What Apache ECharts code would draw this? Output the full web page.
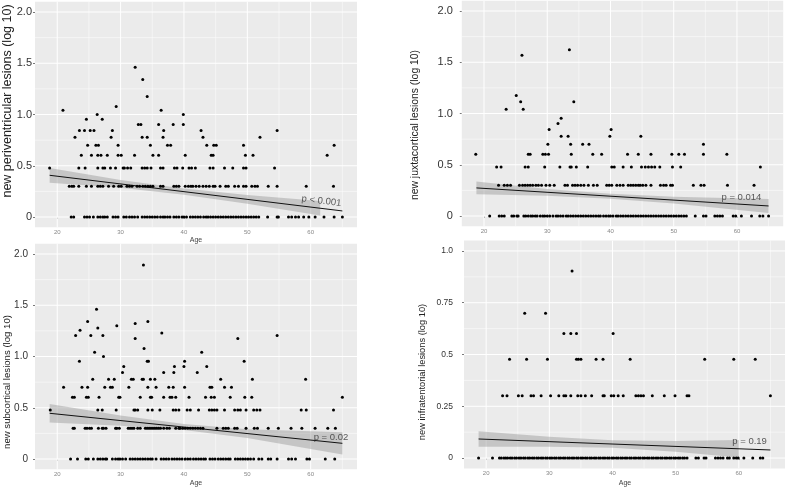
<!DOCTYPE html>
<html><head><meta charset="utf-8">
<script src="https://cdn.jsdelivr.net/npm/echarts@6/dist/echarts.min.js"></script>
<style>html,body{margin:0;padding:0;background:#fff}#c{width:787px;height:487px}</style>
</head><body><div id="c"></div>
<script>
// ---------- DATA ----------
// rows: [log10 value, [ages...]]
const periRows = [
 [1.462,[32.3]],
 [1.342,[33.5]],
 [1.176,[34.2]],
 [1.079,[29.3]],
 [1.041,[20.9,36.4]],
 [1.0,[26.3,39.9]],
 [0.954,[24.6,27.1]],
 [0.903,[32.8,33.2,36.0,38.3,39.9]],
 [0.845,[23.5,24.3,25.2,25.8,28.7,36.8,42.7,54.7]],
 [0.778,[22.8,28.5,33.4,34.2,36.7,43.0,52.0]],
 [0.699,[24.8,26.1,26.5,29.6,34.7,37.4,37.9,43.6,44.7,45.1,49.4,63.7]],
 [0.602,[23.8,25.4,26.4,26.9,27.9,29.6,30.1,32.2,35.1,36.0,40.2,44.3,44.6,49.7,50.9,62.6]],
 [0.477,[18.8,23.4,24.4,26.4,27.2,27.5,28.4,29.2,30.4,30.6,31.1,31.6,33.4,33.8,34.2,34.8,36.3,36.7,38.5,38.9,39.8,40.8,41.2,41.8,44.1,44.6,46.4,47.7,49.4,49.8,54.3]],
 [0.301,[21.9,22.3,22.6,23.4,24.6,25.4,26.4,26.8,27.2,28.1,28.9,29.7,30.1,31.0,31.4,31.8,32.6,33.0,33.5,33.9,34.3,34.7,35.1,36.3,36.7,38.4,38.8,39.2,40.2,40.7,41.1,41.4,41.9,42.4,43.0,43.5,44.0,44.6,44.9,45.7,46.6,47.0,48.0,48.6,49.4,49.8,50.7,51.2,51.6,53.3,54.7,59.3,63.6]],
 [0,[22.2,22.6,24.3,24.7,25.1,25.7,26.4,26.8,27.2,27.5,27.9,28.8,29.2,29.6,30.5,30.9,31.4,31.8,32.2,32.7,33.4,33.8,34.2,34.6,35.0,35.4,35.8,36.3,36.7,37.0,37.4,37.8,38.4,38.8,39.2,39.7,40.0,40.4,41.0,41.4,41.8,42.2,42.6,43.1,43.5,43.8,44.2,44.6,45.0,45.4,45.8,46.2,46.6,47.0,47.4,47.8,48.2,48.6,49.0,49.4,49.8,50.2,50.6,51.0,51.4,51.8,53.2,54.7,54.9,56.5,57.0,57.6,58.1,58.9,59.7,60.7,62.1,63.7,65.0]]
];
const juxtaRows = [
 [1.623,[33.5]],
 [1.568,[26.0]],
 [1.176,[25.1]],
 [1.114,[25.8,34.2]],
 [1.041,[23.5,26.2]],
 [0.954,[32.2]],
 [0.903,[31.7]],
 [0.845,[30.3,40.1]],
 [0.778,[32.2,33.3,39.9,44.8]],
 [0.699,[30.1,33.7,35.6,36.6,54.7]],
 [0.602,[18.7,27.0,27.3,29.3,29.7,30.2,33.8,37.2,38.6,42.7,44.4,46.4,49.7,50.8,51.7,54.7,58.4]],
 [0.477,[22.0,22.7,26.5,27.0,29.6,32.0,33.6,33.8,34.6,36.4,40.2,40.6,42.0,43.3,44.9,45.5,46.0,46.5,47.0,47.8,49.8,51.1,63.7]],
 [0.301,[22.3,23.2,23.7,24.2,25.6,26.1,26.5,26.9,27.3,27.7,28.2,28.6,29.1,29.8,30.4,31.1,32.8,33.2,34.0,34.4,34.8,35.3,35.8,36.5,37.3,37.9,39.4,39.8,40.2,41.0,41.5,42.0,42.8,43.2,43.6,44.0,44.4,44.7,45.1,45.6,46.4,47.9,48.4,48.8,49.5,49.8,53.1,54.3,54.8,58.5,62.7]],
 [0,[20.9,22.4,22.8,23.2,24.4,24.7,25.2,25.4,26.3,26.6,27.0,27.4,27.7,28.1,28.4,28.9,29.3,29.6,30.0,30.4,30.9,31.4,31.7,32.1,32.5,33.0,33.3,33.7,34.1,34.5,34.9,35.3,35.7,36.1,36.5,36.9,37.3,37.7,38.1,38.4,38.9,39.3,39.7,40.0,40.4,40.9,41.2,41.6,42.0,42.4,42.8,43.2,43.6,44.0,44.4,44.8,45.2,45.6,46.0,46.4,46.8,47.2,47.6,48.0,48.4,48.8,49.2,49.6,50.0,50.4,50.8,51.2,51.6,52.0,53.4,54.7,55.1,56.5,56.9,57.3,57.7,59.4,59.8,60.7,62.3,63.6,64.1,65.0]]
];
const subRows = [
 [1.892,[33.6]],
 [1.462,[26.2]],
 [1.342,[24.8,34.3]],
 [1.322,[32.3]],
 [1.301,[29.4]],
 [1.279,[26.4]],
 [1.255,[23.6]],
 [1.230,[36.5]],
 [1.204,[22.9,25.3,27.2,54.7]],
 [1.176,[32.3,48.5]],
 [1.079,[33.7]],
 [1.041,[25.9,42.8]],
 [1.0,[27.3]],
 [0.954,[23.5,34.2,34.4,40.1,49.5]],
 [0.903,[30.5,38.5,40.0,43.6]],
 [0.845,[30.3,36.8,38.4,42.1]],
 [0.778,[25.6,28.1,29.0,31.7,32.0,33.4,33.6,34.7,35.4,45.8,50.8,59.2]],
 [0.699,[21.0,23.9,24.8,27.5,28.4,28.7,31.3,34.3,35.6,37.6,38.3,40.1,44.1,44.4,46.4,47.5]],
 [0.602,[22.4,22.7,24.6,24.9,26.6,29.7,29.9,33.1,34.7,34.9,36.8,37.8,38.1,38.7,40.8,43.4,44.3,44.8,47.3,49.6,50.7,65.0]],
 [0.477,[18.9,26.4,27.1,29.3,32.1,32.3,32.7,34.3,35.0,36.2,38.3,38.7,39.2,40.5,41.0,42.3,44.0,44.4,44.8,45.2,46.4,48.0,48.5,48.9,49.8,51.0,51.5,52.0,58.5,59.3,63.6]],
 [0.301,[22.5,22.7,24.4,24.7,25.1,25.4,26.5,27.1,27.3,27.7,29.2,29.4,29.8,31.2,31.5,31.8,32.1,32.7,33.1,33.9,34.2,34.5,34.8,35.1,35.4,35.7,36.0,36.3,36.8,37.3,37.7,38.7,39.2,39.4,39.8,40.2,40.6,41.0,41.4,41.8,42.2,42.6,43.0,45.2,46.2,46.6,47.0,48.0,48.4,49.8,51.1,51.6,53.3,54.9,56.9,58.6,60.7,62.7,63.9]],
 [0,[22.1,23.2,24.5,24.9,25.7,26.4,26.8,27.2,27.6,27.8,28.7,29.2,29.6,29.9,30.3,30.8,31.5,31.9,32.3,32.7,33.1,33.5,33.9,34.3,34.7,35.0,35.6,36.4,36.8,37.2,37.6,38.1,38.5,38.9,39.3,39.7,40.2,40.6,41.0,41.5,41.9,42.3,42.7,43.1,43.4,44.1,44.5,44.9,45.4,45.8,46.2,46.6,47.0,47.3,48.1,48.5,48.9,49.3,49.7,50.1,50.5,51.0,51.8,52.3,53.3,53.7,54.7,56.5,57.0,57.6,59.4,59.8,62.3,63.8]]
];
const infraRows = [
 [0.903,[33.6]],
 [0.699,[26.1,29.4]],
 [0.602,[32.3,33.4,34.3,40.1]],
 [0.477,[23.7,26.4,29.7,34.3,34.6,35.0,37.4,38.5,42.8,54.6,59.2,62.6]],
 [0.301,[22.6,23.3,25.1,25.7,27.1,27.5,28.7,30.2,31.5,32.3,32.6,33.4,34.5,35.0,35.7,36.7,38.5,38.7,39.8,40.2,40.9,41.7,43.7,44.1,44.5,44.9,46.3,48.2,49.9,51.8,52.1,65.0]],
 [0,[18.8,21.0,22.1,22.4,22.8,23.1,23.4,23.8,24.1,24.5,24.8,25.2,25.5,25.9,26.2,26.6,26.9,27.3,27.6,28.0,28.3,28.7,29.0,29.4,29.7,30.1,30.4,30.8,31.1,31.5,31.8,32.2,32.5,32.9,33.2,33.6,33.9,34.3,34.6,35.0,35.3,35.7,36.0,36.4,36.7,37.1,37.4,37.8,38.1,38.5,38.8,39.2,39.5,39.9,40.2,40.6,40.9,41.3,41.6,42.0,42.3,42.7,43.0,43.4,43.7,44.1,44.4,44.8,45.1,45.5,45.8,46.2,46.5,46.9,47.2,47.6,47.9,48.3,48.6,49.0,49.3,49.7,50.0,50.4,50.7,51.1,51.4,51.8,53.2,53.6,54.5,54.8,56.3,56.7,57.1,57.5,58.2,58.5,59.2,59.6,59.9,60.8,62.2,63.4,63.8]]
];
// fitted regression lines [age, value]
const periFit = [[18.8,0.407],[65,0.059]];
const juxtaFit = [[18.8,0.274],[65,0.098]];
const subFit = [[18.8,0.446],[65,0.153]];
const infraFit = [[18.8,0.092],[65,0.039]];
// confidence bands [age, lower, upper]
const periBand = [[18.8,0.335,0.479],[30,0.285,0.361],[40,0.217,0.277],[50,0.130,0.214],[61.5,0.015,0.155]];
const juxtaBand = [[18.8,0.212,0.336],[30,0.198,0.264],[40,0.168,0.218],[50,0.122,0.188],[65,0.030,0.166]];
const subBand = [[18.8,0.356,0.536],[30,0.325,0.425],[40,0.282,0.342],[50,0.205,0.291],[65,0.045,0.261]];
const infraBand = [[18.8,0.055,0.129],[30,0.055,0.103],[40,0.050,0.086],[50,0.030,0.082],[60,0.003,0.087]];
// axis ticks / labels
const ageTicks = [20,30,40,50,60];
const ageMinor = [25,35,45,55,65];
const yTicksA = [0,0.5,1,1.5,2];
const yLabelsA = ['0','0.5','1.0','1.5','2.0'];
const yMinorA = [0.25,0.75,1.25,1.75];
const yTicksB = [0,0.25,0.5,0.75,1];
const yLabelsB = ['0','0.25','0.5','0.75','1.0'];
const yMinorB = [0.125,0.375,0.625,0.875];
const yTitles = ['new periventricular lesions (log 10)','new juxtacortical lesions (log 10)','new subcortical lesions (log 10)','new infratentorial lesions (log 10)'];
const pTexts = ['p < 0.001','p = 0.014','p = 0.02','p = 0.19'];
const xTitle = 'Age';

// ---------- BUILD ----------
const FONT = '"Liberation Sans", Arial, sans-serif';
const panels = [
 {rows: periRows, fit: periFit, band: periBand, yt: yTicksA, yl: yLabelsA, ym: yMinorA, ymin:-0.1, ymax:2.1,
  grid:{left:35, top:1.75, width:322, height:225.5}, yfs:11, ymargin:3, p:[61.7,0.156], prot:-7},
 {rows: juxtaRows, fit: juxtaFit, band: juxtaBand, yt: yTicksA, yl: yLabelsA, ym: yMinorA, ymin:-0.1, ymax:2.1,
  grid:{left:461.8, top:0.75, width:321.4, height:225.5}, yfs:11, ymargin:9, p:[60.7,0.185], prot:0},
 {rows: subRows, fit: subFit, band: subBand, yt: yTicksA, yl: yLabelsA, ym: yMinorA, ymin:-0.1, ymax:2.1,
  grid:{left:35, top:243.75, width:322, height:225.5}, yfs:10, ymargin:7, p:[63.2,0.212], prot:0},
 {rows: infraRows, fit: infraFit, band: infraBand, yt: yTicksB, yl: yLabelsB, ym: yMinorB, ymin:-0.05, ymax:1.05,
  grid:{left:464, top:240.6, width:321, height:227.8}, yfs:8.5, ymargin:11, p:[61.7,0.082], prot:0}
];

const option = {animation:false, textStyle:{fontFamily:FONT}, grid:[], xAxis:[], yAxis:[], series:[], graphic:[]};

panels.forEach((pn, i) => {
  option.grid.push(Object.assign({show:true, backgroundColor:'#ebebeb', borderWidth:0, containLabel:false, outerBoundsMode:'none'}, pn.grid));
  option.xAxis.push({type:'value', gridIndex:i, min:16.49, max:67.31, splitNumber:5,
    axisLine:{show:false}, splitLine:{show:false},
    axisTick:{show:true, customValues: ageTicks, length:2, lineStyle:{color:'#555', width:0.8}},
    axisLabel:{customValues: ageTicks, fontSize:6, color:'#888', margin:2}});
  option.yAxis.push({type:'value', gridIndex:i, min:pn.ymin, max:pn.ymax,
    axisLine:{show:false}, splitLine:{show:false},
    axisTick:{show:true, customValues: pn.yt, length:2, lineStyle:{color:'#555', width:0.8}},
    axisLabel:{customValues: pn.yt, fontSize:pn.yfs, color:'#333', margin:pn.ymargin,
      formatter: (v) => { const k = pn.yt.findIndex(t => Math.abs(t - v) < 1e-9); return k >= 0 ? pn.yl[k] : ''; }}});
  // grid lines
  const yt = pn.yt, ym = pn.ym;
  option.series.push({type:'custom', xAxisIndex:i, yAxisIndex:i, z:1, silent:true, data:[[40,0]],
    renderItem:(params, api) => {
      const cs = params.coordSys;
      const kids = [];
      const vline = (a, w) => { const p = api.coord([a, 0]); kids.push({type:'line', shape:{x1:p[0], y1:cs.y, x2:p[0], y2:cs.y+cs.height}, style:{stroke:'#ffffff', lineWidth:w}}); };
      const hline = (v, w) => { const p = api.coord([40, v]); kids.push({type:'line', shape:{x1:cs.x, y1:p[1], x2:cs.x+cs.width, y2:p[1]}, style:{stroke:'#ffffff', lineWidth:w}}); };
      ageMinor.forEach(a => vline(a, 0.5));
      ym.forEach(v => hline(v, 0.5));
      ageTicks.forEach(a => vline(a, 1));
      yt.forEach(v => hline(v, 1));
      return {type:'group', children:kids};
    }});
  // confidence band
  const band = pn.band;
  option.series.push({type:'custom', xAxisIndex:i, yAxisIndex:i, z:2, silent:true, data: band.map(b => [b[0], b[1], b[2]]),
    encode:{x:0, y:[1,2]},
    renderItem:(params, api) => {
      if (params.dataIndex !== 0) return null;
      const up = band.map(b => api.coord([b[0], b[2]]));
      const lo = band.map(b => api.coord([b[0], b[1]])).reverse();
      return {type:'polygon', shape:{points: up.concat(lo), smooth:0}, style:{fill:'rgba(150,150,150,0.45)'}};
    }});
  // points
  const pts = [];
  pn.rows.forEach(r => r[1].forEach(a => pts.push([a, r[0]])));
  option.series.push({type:'scatter', xAxisIndex:i, yAxisIndex:i, z:4, symbol:'circle', symbolSize:3,
    itemStyle:{color:'#000', opacity:1}, data: pts});
  // fit line
  option.series.push({type:'line', xAxisIndex:i, yAxisIndex:i, z:3, symbol:'none', data: pn.fit,
    lineStyle:{color:'#111', width:1}});
  // p label
  option.series.push({type:'scatter', xAxisIndex:i, yAxisIndex:i, z:5, symbolSize:0, data:[pn.p],
    label:{show:true, position:'inside', formatter: pTexts[i], fontSize:9.5, color:'#333', rotate: pn.prot}});
});

// axis titles
option.graphic = [
  {type:'text', x:7.5, y:101, rotation:Math.PI/2, style:{text:yTitles[0], font:'12.5px "Liberation Sans", Arial', fill:'#222', align:'center', verticalAlign:'middle'}},
  {type:'text', x:415, y:125, rotation:Math.PI/2, style:{text:yTitles[1], font:'10.4px "Liberation Sans", Arial', fill:'#222', align:'center', verticalAlign:'middle'}},
  {type:'text', x:7, y:382, rotation:Math.PI/2, style:{text:yTitles[2], font:'9.6px "Liberation Sans", Arial', fill:'#222', align:'center', verticalAlign:'middle'}},
  {type:'text', x:422, y:372, rotation:Math.PI/2, style:{text:yTitles[3], font:'9.3px "Liberation Sans", Arial', fill:'#222', align:'center', verticalAlign:'middle'}},
  {type:'text', x:196, y:240.5, style:{text:xTitle, font:'7px "Liberation Sans", Arial', fill:'#444', align:'center', verticalAlign:'middle'}},
  {type:'text', x:196, y:483, style:{text:xTitle, font:'7px "Liberation Sans", Arial', fill:'#444', align:'center', verticalAlign:'middle'}},
  {type:'text', x:625, y:483, style:{text:xTitle, font:'7px "Liberation Sans", Arial', fill:'#444', align:'center', verticalAlign:'middle'}}
];

const chart = echarts.init(document.getElementById('c'), null, {renderer:'canvas'});
chart.setOption(option);
</script></body></html>
